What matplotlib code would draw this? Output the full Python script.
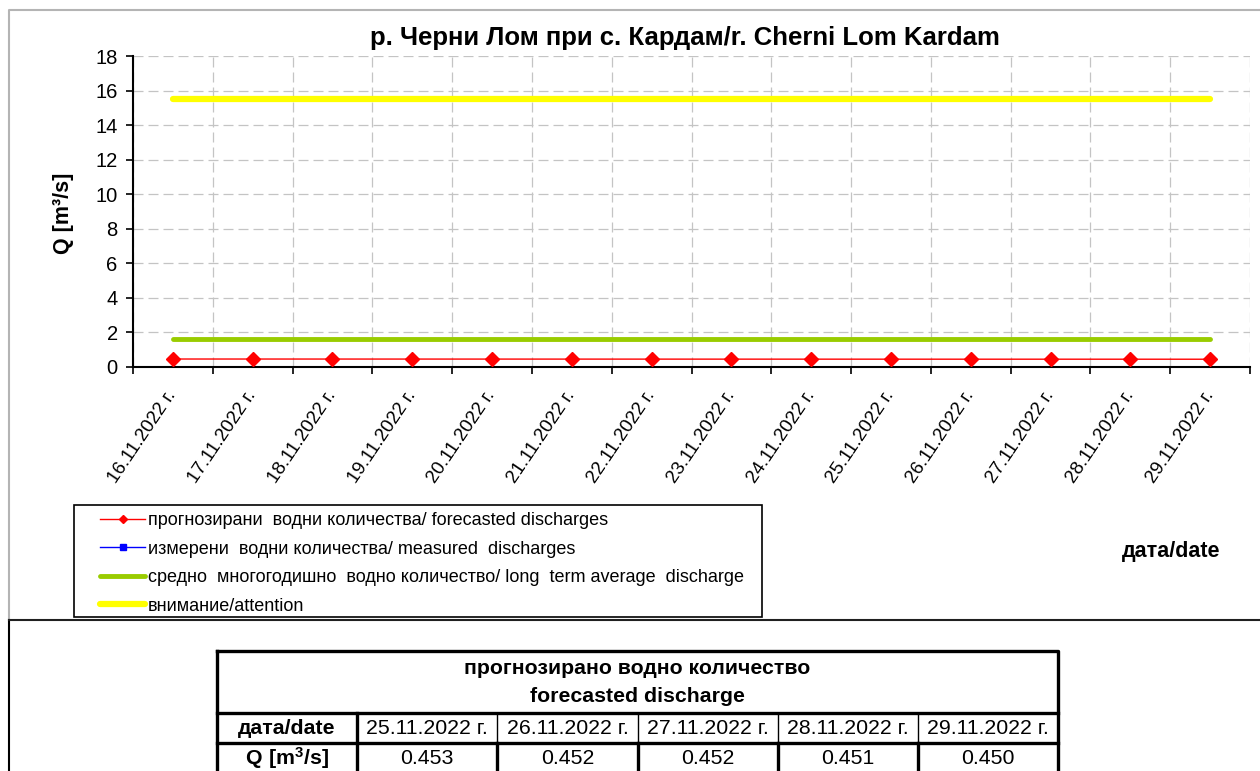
import matplotlib.pyplot as plt
import numpy as np
from matplotlib.lines import Line2D
from matplotlib.patches import Rectangle

plt.rcParams['font.family'] = ['Liberation Sans', 'DejaVu Sans']
plt.rcParams['mathtext.fontset'] = 'custom'
plt.rcParams['mathtext.rm'] = 'Liberation Sans'
plt.rcParams['mathtext.bf'] = 'Liberation Sans:bold'

# chart data
dates = ['16.11.2022 г.', '17.11.2022 г.', '18.11.2022 г.', '19.11.2022 г.',
         '20.11.2022 г.', '21.11.2022 г.', '22.11.2022 г.', '23.11.2022 г.',
         '24.11.2022 г.', '25.11.2022 г.', '26.11.2022 г.', '27.11.2022 г.',
         '28.11.2022 г.', '29.11.2022 г.']
forecast = [0.462, 0.461, 0.460, 0.459, 0.458, 0.457, 0.456, 0.455, 0.454,
            0.453, 0.452, 0.452, 0.451, 0.450]
measured = []
average_level = 1.6
attention_level = 15.5

# table data
table_dates = ['25.11.2022 г.', '26.11.2022 г.', '27.11.2022 г.', '28.11.2022 г.', '29.11.2022 г.']
table_q = ['0.453', '0.452', '0.452', '0.451', '0.450']

W, H = 1260, 771


def fx(px):
	return px / W


def fy(py):
	return 1 - py / H


fig = plt.figure(figsize=(12.6, 7.71), dpi=100)

# outer frames
fig.add_artist(Line2D([fx(9), fx(9), 1.0], [fy(620), fy(10), fy(10)], color='#b4b4b4', lw=1.5))
fig.add_artist(Line2D([fx(9), fx(9)], [0, fy(620)], color='black', lw=1.5))
fig.add_artist(Line2D([fx(9), 1.0], [fy(620), fy(620)], color='#202020', lw=1.5))

ax = fig.add_axes([fx(133), fy(367), fx(1250) - fx(133), fy(56) - fy(367)])
n = len(dates)
x = np.arange(n) + 0.5

ax.plot(x, np.full(n, attention_level), color='#FFFF00', lw=4.5, solid_capstyle='round', zorder=3)
ax.plot(x, np.full(n, average_level), color='#99CC00', lw=3.5, solid_capstyle='round', zorder=3)
ax.plot(x[:len(measured)], measured, color='#0000FF', lw=1, marker='s', ms=5, zorder=4)
ax.plot(x, forecast, color='#FF0000', lw=1, marker='D', ms=7.5, zorder=5)

ax.set_xlim(0, n)
ax.set_ylim(0, 18)
ax.set_yticks(np.arange(0, 19, 2))
ax.set_xticks(x, labels=dates, rotation=56, ha='right', va='center', rotation_mode='anchor')
ax.set_xticks(np.arange(n + 1), minor=True)
ax.tick_params(axis='x', which='major', length=0, pad=18, labelsize=13.5)
ax.tick_params(axis='x', which='minor', length=5, width=1.2, direction='out', color='black')
ax.tick_params(axis='y', length=5, width=1.2, labelsize=14.5, pad=6)
ax.grid(axis='y', which='major', color='#c4c4c4', ls=(0, (8, 4)), lw=0.9)
ax.grid(axis='x', which='minor', color='#c4c4c4', ls=(0, (8, 4)), lw=0.9)
for side in ['top', 'right']:
	ax.spines[side].set_visible(False)
for side in ['left', 'bottom']:
	ax.spines[side].set_linewidth(1.5)

fig.text(fx(685), fy(38), 'р. Черни Лом при с. Кардам/r. Cherni Lom Kardam',
         ha='center', va='center', fontsize=18.5, fontweight='bold')
fig.text(fx(63), fy(213), 'Q [m³/s]', rotation=90, ha='center', va='center',
         fontsize=15.5, fontweight='bold')
fig.text(fx(1171), fy(552), 'дата/date', ha='center', va='center', fontsize=15.5, fontweight='bold')

# legend
handles = [
	Line2D([], [], color='#FF0000', lw=1, marker='D', ms=4.5),
	Line2D([], [], color='#0000FF', lw=1, marker='s', ms=4.5),
	Line2D([], [], color='#99CC00', lw=3.5, solid_capstyle='round'),
	Line2D([], [], color='#FFFF00', lw=4.5, solid_capstyle='round'),
]
labels = [
	'прогнозирани  водни количества/ forecasted discharges',
	'измерени  водни количества/ measured  discharges',
	'средно  многогодишно  водно количество/ long  term average  discharge',
	'внимание/attention',
]
fig.add_artist(Rectangle((fx(74), fy(617)), fx(762) - fx(74), fy(505) - fy(617),
                         transform=fig.transFigure, fill=False, ec='black', lw=1.2))
leg = fig.legend(handles, labels, loc='center left', bbox_to_anchor=(fx(100), fy(563.5)),
                 frameon=False, fontsize=13, handlelength=2.5, handletextpad=0.15,
                 labelspacing=0.63, borderpad=0, borderaxespad=0)

# table
tx = fig.add_axes([fx(217), fy(773), fx(1058) - fx(217), fy(651) - fy(773)])
tx.set_xlim(0, 6)
tx.set_ylim(122, 0)
tx.axis('off')
thick = 2.4
thin = 1.0
tx.plot([0, 6, 6, 0, 0], [0, 0, 122, 122, 0], color='black', lw=thick, clip_on=False)
tx.plot([0, 6], [62, 62], color='black', lw=thick, clip_on=False)
tx.plot([0, 6], [92, 92], color='black', lw=thick, clip_on=False)
tx.plot([1, 1], [62, 122], color='black', lw=thick, clip_on=False)
for c in range(2, 6):
	tx.plot([c, c], [62, 92], color='black', lw=thin, clip_on=False)
	tx.plot([c, c], [92, 122], color='black', lw=thick, clip_on=False)

fs = 15.3
tx.text(3, 17, 'прогнозирано водно количество', ha='center', va='center', fontsize=fs, fontweight='bold')
tx.text(3, 46, 'forecasted discharge', ha='center', va='center', fontsize=fs, fontweight='bold')
tx.text(0.5, 77, 'дата/date', ha='center', va='center', fontsize=fs, fontweight='bold')
tx.text(0.5, 107, r'$\mathbf{Q\ [m^{3}/s]}$', ha='center', va='center', fontsize=fs)
for i, (d, q) in enumerate(zip(table_dates, table_q)):
	tx.text(i + 1.5, 77, d, ha='center', va='center', fontsize=fs)
	tx.text(i + 1.5, 107, q, ha='center', va='center', fontsize=fs)

fig.savefig('out.png', dpi=100)
